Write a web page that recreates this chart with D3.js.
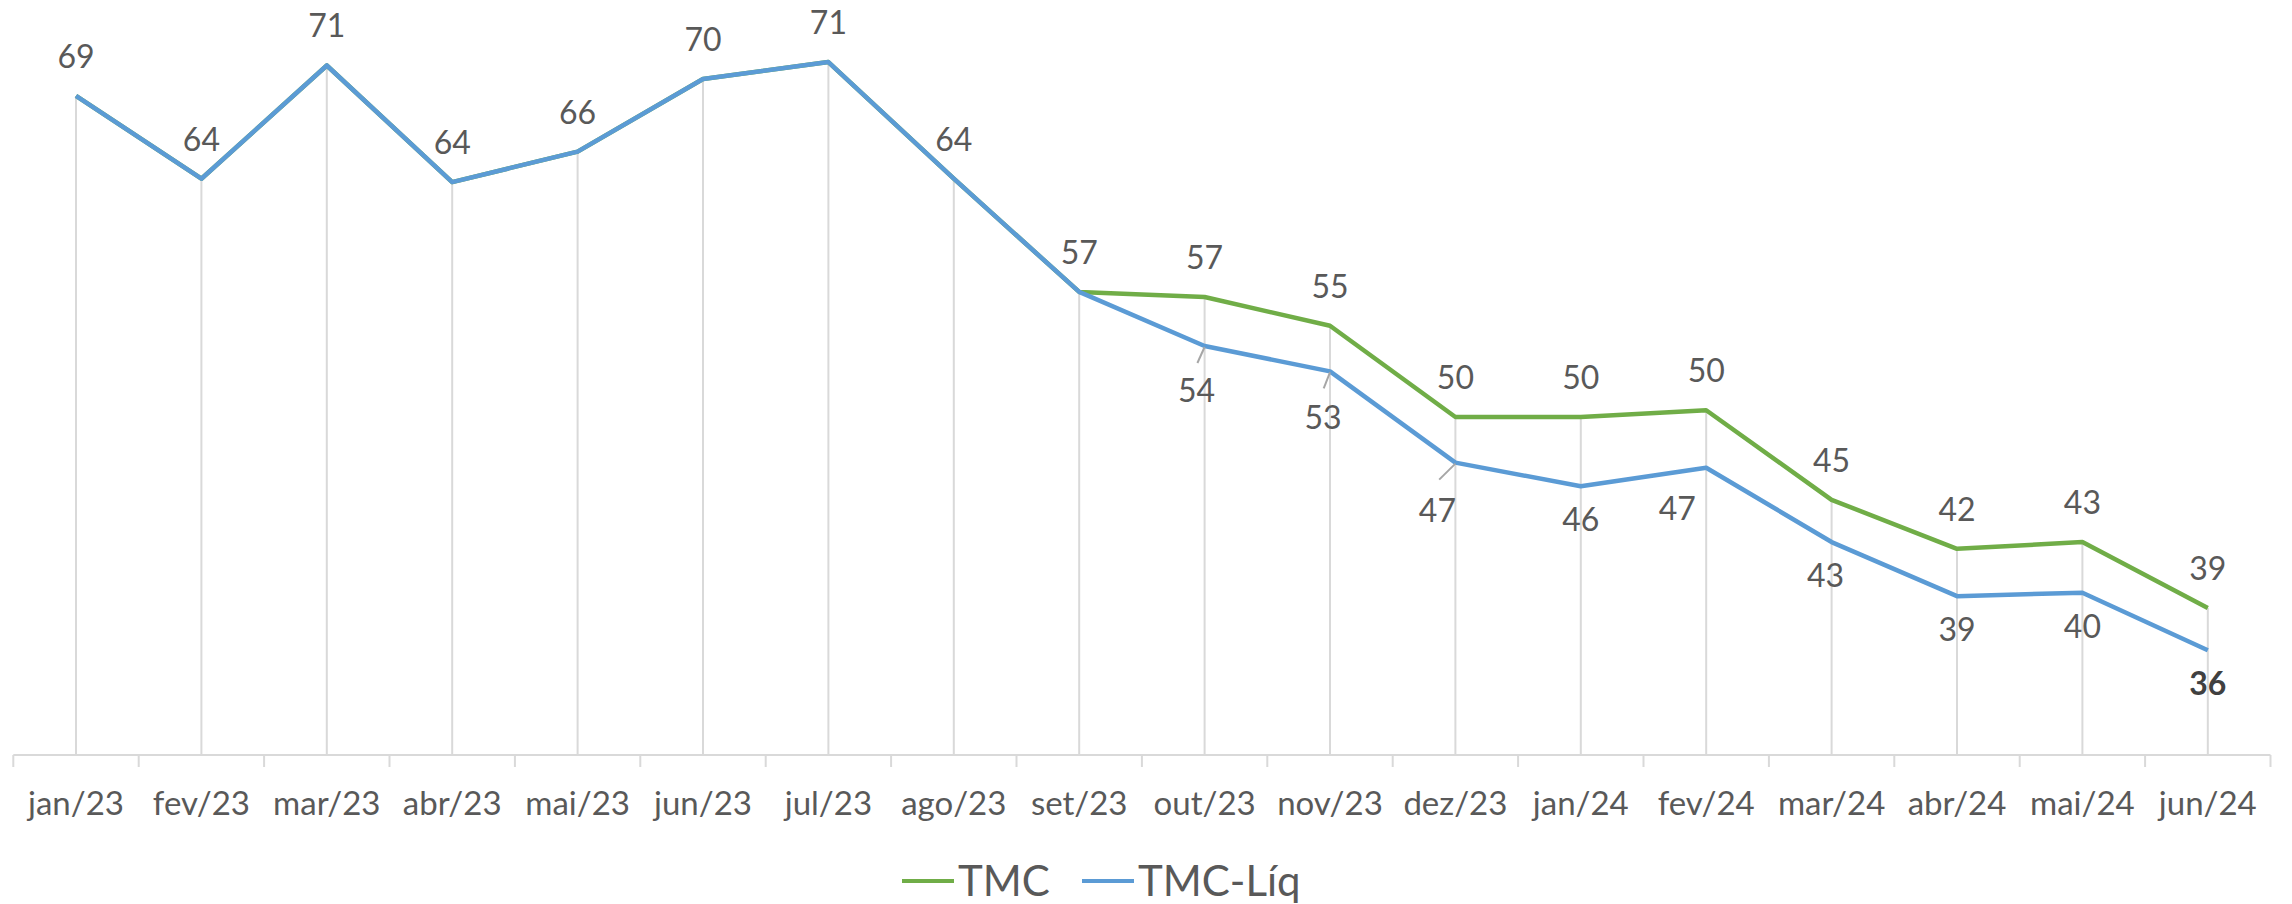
<!DOCTYPE html>
<html>
<head>
<meta charset="utf-8">
<script src="https://cdn.jsdelivr.net/npm/d3@7"></script>
<style>
  html, body { margin: 0; padding: 0; background: #ffffff; }
  svg { display: block; font-family: Lato, "Open Sans", sans-serif; }
</style>
</head>
<body>
<svg id="chart" width="2292" height="904"></svg>
<script>
// ---- data ----
const categories = ["jan/23","fev/23","mar/23","abr/23","mai/23","jun/23","jul/23","ago/23","set/23",
  "out/23","nov/23","dez/23","jan/24","fev/24","mar/24","abr/24","mai/24","jun/24"];
const tmc    = [69.0, 64.1, 70.8, 63.9, 65.7, 70.0, 71.0, 64.1, 57.4, 57.1, 55.4, 50.0, 50.0, 50.4, 45.1, 42.2, 42.6, 38.7];
const tmcLiq = [69.0, 64.1, 70.8, 63.9, 65.7, 70.0, 71.0, 64.1, 57.4, 54.2, 52.7, 47.3, 45.9, 47.0, 42.6, 39.4, 39.6, 36.2];
const seriesNames = ["TMC", "TMC-Líq"];
// index from which TMC-Líq differs from TMC and gets its own (below) labels
const splitIndex = 9;

// ---- layout / style (not data) ----
const W = 2292, H = 904;
const axisY = 755, axisLeft = 13.3, axisRight = 2270.5;
const colors = { "TMC": "#70AD47", "TMC-Líq": "#5B9BD5" };
const textColor = "#595959";
// manual label nudges for TMC-Líq labels (dx, dy of baseline from point, leader line)
const liqNudge = {
  "out/23": { dx: -8,  dy: 56, leader: true },
  "nov/23": { dx: -7,  dy: 58, leader: true },
  "dez/23": { dx: -18, dy: 59, leader: true },
  "fev/24": { dx: -29, dy: 52, leader: false },
  "mar/24": { dx: -6,  dy: 45, leader: false }
};

const svg = d3.select("#chart");
svg.append("rect").attr("width", W).attr("height", H).attr("fill", "#fff");

const x = d3.scaleBand().domain(categories).range([axisLeft, axisRight]).padding(0);
const cx = c => x(c) + x.bandwidth() / 2;
const y = d3.scaleLinear().domain([30, 75]).range([axisY, axisY - 45 * 16.9]);

// drop lines
const g = svg.append("g");
g.selectAll("line.drop").data(categories).join("line")
  .attr("class", "drop")
  .attr("x1", c => cx(c)).attr("x2", c => cx(c))
  .attr("y1", (c, i) => y(Math.max(tmc[i], tmcLiq[i])))
  .attr("y2", axisY)
  .attr("stroke", "#D9D9D9").attr("stroke-width", 2);

// axis labels via d3 axis
const ax = g.append("g").attr("transform", `translate(0,${axisY})`)
  .call(d3.axisBottom(x).tickSize(0).tickPadding(37));
ax.select(".domain").remove();
ax.selectAll("text").attr("font-size", 33).attr("fill", textColor)
  .attr("font-family", "Lato, 'Open Sans', sans-serif");

// axis line + boundary tick marks
g.append("line").attr("x1", axisLeft).attr("x2", axisRight).attr("y1", axisY).attr("y2", axisY)
  .attr("stroke", "#D9D9D9").attr("stroke-width", 2);
const bounds = categories.map(c => x(c)).concat([axisRight]);
g.selectAll("line.tick2").data(bounds).join("line")
  .attr("class", "tick2")
  .attr("x1", d => d).attr("x2", d => d).attr("y1", axisY).attr("y2", axisY + 12)
  .attr("stroke", "#D9D9D9").attr("stroke-width", 2);

// lines
const line = d3.line().x((d, i) => cx(categories[i])).y(d => y(d));
g.append("path").datum(tmc).attr("d", line).attr("fill", "none")
  .attr("stroke", colors["TMC"]).attr("stroke-width", 4.5).attr("stroke-linejoin", "round");
g.append("path").datum(tmcLiq).attr("d", line).attr("fill", "none")
  .attr("stroke", colors["TMC-Líq"]).attr("stroke-width", 4.5).attr("stroke-linejoin", "round");

// TMC labels (above)
g.selectAll("text.lblT").data(tmc).join("text")
  .attr("class", "lblT")
  .attr("x", (d, i) => cx(categories[i]))
  .attr("y", d => y(d) - 28)
  .attr("text-anchor", "middle").attr("font-size", 32).attr("fill", textColor)
  .text(d => Math.round(d));

// TMC-Líq labels (below) after split
const liqData = tmcLiq.map((v, i) => ({ v, i, c: categories[i] })).filter(d => d.i >= splitIndex);
const last = categories.length - 1;
liqData.forEach(d => {
  const n = liqNudge[d.c] || { dx: 0, dy: 45, leader: false };
  const px = cx(d.c), py = y(d.v);
  if (n.leader) {
    g.append("line").attr("x1", px).attr("y1", py + 1)
      .attr("x2", px + n.dx * 0.9).attr("y2", py + 17)
      .attr("stroke", "#A6A6A6").attr("stroke-width", 2);
  }
  g.append("text")
    .attr("x", px + n.dx).attr("y", py + n.dy)
    .attr("text-anchor", "middle").attr("font-size", 32)
    .attr("fill", d.i === last ? "#404040" : textColor)
    .attr("font-weight", d.i === last ? "bold" : "normal")
    .text(Math.round(d.v));
});

// legend
const leg = svg.append("g");
const legItems = [
  { name: seriesNames[0], x0: 902 },
  { name: seriesNames[1], x0: 1082 }
];
legItems.forEach(it => {
  leg.append("line").attr("x1", it.x0).attr("x2", it.x0 + 52).attr("y1", 881).attr("y2", 881)
    .attr("stroke", colors[it.name]).attr("stroke-width", 4);
  leg.append("text").attr("x", it.x0 + 56).attr("y", 896)
    .attr("font-size", 42).attr("fill", textColor).text(it.name);
});
</script>
</body>
</html>
